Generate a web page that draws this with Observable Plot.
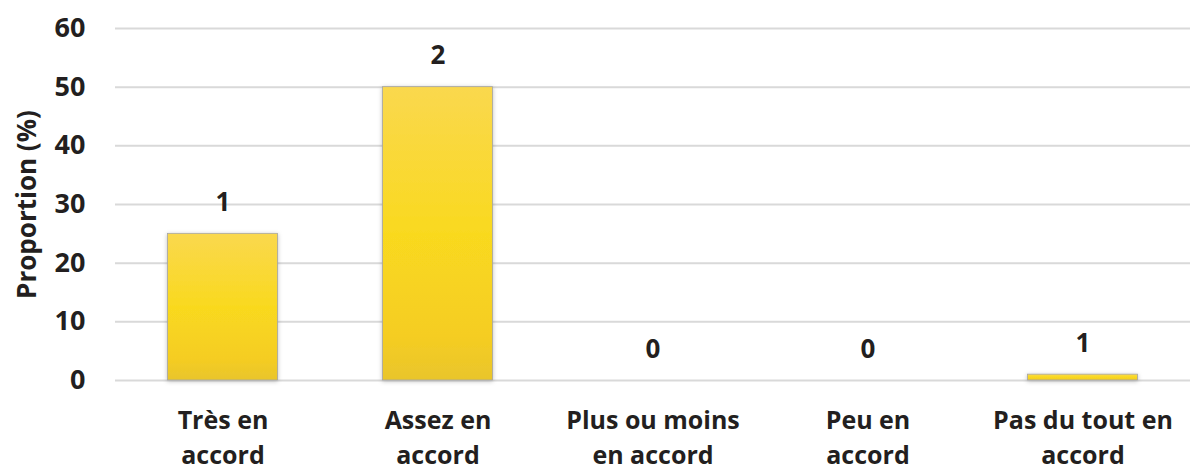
<!DOCTYPE html>
<html><head><meta charset="utf-8">
<script src="https://cdn.jsdelivr.net/npm/d3@7"></script>
<script src="https://cdn.jsdelivr.net/npm/@observablehq/plot@0.6"></script>
<style>
html,body{margin:0;padding:0;background:#fff;}
#chart svg{display:block;}
</style>
</head><body><div id="chart"></div>
<script>
const categories = ["Très en\naccord", "Assez en\naccord", "Plus ou moins\nen accord", "Peu en\naccord", "Pas du tout en\naccord"];
const proportions = [25, 50, 0, 0, 1];
const counts = [1, 2, 0, 0, 1];
const yTicks = [0, 10, 20, 30, 40, 50, 60];
const yLabel = "Proportion (%)";

const data = categories.map((c, i) => ({cat: c, value: proportions[i], n: counts[i]}));
const font = "'Century Gothic', 'Open Sans', 'DejaVu Sans', sans-serif";

const plot = Plot.plot({
  width: 1190,
  height: 471,
  marginLeft: 115,
  marginRight: 0,
  marginTop: 28,
  marginBottom: 91,
  style: {fontFamily: font, fontWeight: 700, color: "#231f20", background: "#fff"},
  x: {domain: categories, padding: 0},
  y: {domain: [0, 60], ticks: yTicks},
  marks: [
    Plot.gridY(yTicks, {stroke: "#d9d9d9", strokeOpacity: 1, strokeWidth: 2}),
    Plot.barY(data, {x: "cat", y: "value", insetLeft: 52.5, insetRight: 52.5, fill: "url(#barGrad)", stroke: "#a5a5a5", strokeWidth: 0.8}),
    Plot.text(data, {x: "cat", y: "value", text: d => String(d.n), dy: -31, fontSize: 26, fontWeight: 700, fill: "#231f20"}),
    Plot.axisY(yTicks, {tickSize: 0, tickPadding: 30, fontSize: 27, fontWeight: 700, label: null}),
    Plot.text([yLabel], {frameAnchor: "left", textAnchor: "middle", rotate: -90, dx: -88, fontSize: 26, fontWeight: 700, fill: "#231f20"}),
    Plot.axisX({tickSize: 0, tickPadding: 23, fontSize: 25, fontWeight: 700, lineHeight: 1.42, label: null, textAnchor: "middle"})
  ]
});

const svg = d3.select(plot);
const defs = svg.insert("defs", ":first-child");
const g = defs.append("linearGradient").attr("id", "barGrad").attr("x1", 0).attr("y1", 0).attr("x2", 0).attr("y2", 1);
g.append("stop").attr("offset", "0%").attr("stop-color", "#fad84e");
g.append("stop").attr("offset", "50%").attr("stop-color", "#f9d91f");
g.append("stop").attr("offset", "85%").attr("stop-color", "#f5cd22");
g.append("stop").attr("offset", "100%").attr("stop-color", "#e9c52c");
const f = defs.append("filter").attr("id", "shadow").attr("x", "-20%").attr("y", "-20%").attr("width", "140%").attr("height", "140%");
f.append("feDropShadow").attr("dx", 0).attr("dy", 1).attr("stdDeviation", 2).attr("flood-color", "#000").attr("flood-opacity", 0.25);
svg.selectAll("g[aria-label='bar']").attr("filter", "url(#shadow)");
document.getElementById("chart").appendChild(plot);
</script>
</body></html>
